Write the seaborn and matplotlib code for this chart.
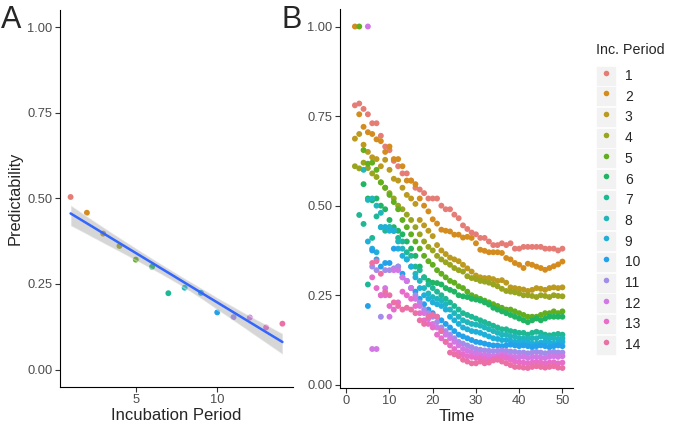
import numpy as np
import pandas as pd
import matplotlib
matplotlib.use('Agg')
import matplotlib.pyplot as plt
import seaborn as sns
from matplotlib.lines import Line2D
from matplotlib.patches import Patch
from matplotlib.legend_handler import HandlerTuple

# panel A: predictability per incubation period
inc_period = [1, 2, 3, 4, 5, 6, 7, 8, 9, 10, 11, 12, 13, 14]
predictability = [0.504, 0.458, 0.397, 0.361, 0.321, 0.300, 0.223,
                  0.239, 0.224, 0.167, 0.153, 0.152, 0.123, 0.134]

# panel B: predictability over time, one list per incubation period
# each list ends at time 50
p1 = [0.78, 0.785, 0.77, 0.755, 0.73, 0.73, 0.695, 0.665, 0.655, 0.625,
      0.61, 0.59, 0.59, 0.57, 0.55, 0.545, 0.535, 0.52, 0.52, 0.52,
      0.50, 0.49, 0.49, 0.475, 0.465, 0.445, 0.435, 0.425, 0.42, 0.41,
      0.41, 0.40, 0.39, 0.39, 0.395, 0.39, 0.395, 0.38, 0.38, 0.385,
      0.385, 0.385, 0.385, 0.385, 0.38, 0.38, 0.38, 0.375, 0.38]
p2 = [1.00, 0.755, 0.72, 0.705, 0.70, 0.685, 0.68, 0.65, 0.665, 0.63,
      0.63, 0.61, 0.57, 0.57, 0.56, 0.52, 0.50, 0.484, 0.462, 0.45,
      0.433, 0.43, 0.428, 0.419, 0.419, 0.411, 0.413, 0.41, 0.395, 0.377,
      0.374, 0.37, 0.37, 0.37, 0.368, 0.354, 0.35, 0.34, 0.335, 0.326,
      0.338, 0.335, 0.33, 0.326, 0.321, 0.326, 0.331, 0.336, 0.344]
p3 = [0.687, 0.70, 0.67, 0.65, 0.635, 0.63, 0.61, 0.628, 0.60, 0.575,
      0.57, 0.55, 0.53, 0.52, 0.505, 0.46, 0.445, 0.43, 0.415, 0.39,
      0.375, 0.365, 0.355, 0.35, 0.345, 0.335, 0.325, 0.316, 0.305, 0.30,
      0.298, 0.298, 0.295, 0.29, 0.292, 0.285, 0.272, 0.27, 0.268, 0.266,
      0.262, 0.265, 0.27, 0.268, 0.265, 0.27, 0.272, 0.27, 0.272]
p4 = [0.61, 0.604, 0.62, 0.605, 0.59, 0.58, 0.565, 0.55, 0.535, 0.52,
      0.50, 0.49, 0.475, 0.46, 0.44, 0.42, 0.40, 0.385, 0.375, 0.36,
      0.35, 0.342, 0.335, 0.326, 0.32, 0.316, 0.303, 0.298, 0.295, 0.29,
      0.288, 0.285, 0.28, 0.275, 0.268, 0.262, 0.26, 0.258, 0.255, 0.25,
      0.25, 0.248, 0.245, 0.25, 0.248, 0.245, 0.25, 0.248, 0.247]
p5 = [1.00, 0.655, 0.617, 0.62, 0.60, 0.565, 0.55, 0.53, 0.51, 0.49,
      0.46, 0.44, 0.42, 0.40, 0.38, 0.36, 0.345, 0.335, 0.32, 0.31,
      0.30, 0.29, 0.285, 0.275, 0.27, 0.26, 0.25, 0.245, 0.24, 0.235,
      0.23, 0.225, 0.22, 0.215, 0.21, 0.21, 0.205, 0.20, 0.195, 0.19,
      0.19, 0.19, 0.195, 0.20, 0.20, 0.205, 0.20, 0.205]
p6 = [0.56, 0.52, 0.515, 0.52, 0.50, 0.49, 0.46, 0.44, 0.43, 0.42,
      0.40, 0.38, 0.36, 0.33, 0.30, 0.29, 0.285, 0.284, 0.28, 0.27,
      0.265, 0.26, 0.25, 0.247, 0.245, 0.24, 0.238, 0.235, 0.23, 0.224,
      0.215, 0.21, 0.205, 0.20, 0.195, 0.19, 0.185, 0.18, 0.175, 0.18,
      0.185, 0.18, 0.185, 0.19, 0.19, 0.19, 0.19]
p7 = [0.474, 0.449, 0.28, 0.41, 0.47, 0.44, 0.43, 0.44, 0.43, 0.41,
      0.40, 0.37, 0.36, 0.33, 0.32, 0.30, 0.28, 0.27, 0.26, 0.25,
      0.24, 0.23, 0.22, 0.21, 0.20, 0.195, 0.19, 0.185, 0.18, 0.175,
      0.17, 0.165, 0.16, 0.155, 0.155, 0.15, 0.148, 0.145, 0.145, 0.14,
      0.145, 0.148, 0.145, 0.14, 0.138, 0.14, 0.142, 0.14]
p8 = [0.60, 0.516, 0.52, 0.50, 0.48, 0.44, 0.44, 0.43, 0.40, 0.38,
      0.35, 0.33, 0.31, 0.29, 0.27, 0.255, 0.245, 0.24, 0.235, 0.225,
      0.21, 0.20, 0.19, 0.18, 0.175, 0.17, 0.168, 0.165, 0.16, 0.155,
      0.15, 0.145, 0.14, 0.14, 0.135, 0.135, 0.13, 0.13, 0.128, 0.13,
      0.13, 0.135, 0.132, 0.13, 0.13, 0.128, 0.13]
p9 = [0.40, 0.38, 0.37, 0.44, 0.44, 0.43, 0.43, 0.38, 0.36, 0.35,
      0.33, 0.30, 0.27, 0.25, 0.24, 0.23, 0.225, 0.22, 0.21, 0.19,
      0.18, 0.17, 0.16, 0.155, 0.15, 0.148, 0.145, 0.14, 0.135, 0.13,
      0.128, 0.125, 0.125, 0.122, 0.12, 0.12, 0.118, 0.12, 0.115, 0.115,
      0.118, 0.12, 0.118, 0.115, 0.118, 0.12]
p10 = [0.22, 0.375, 0.35, 0.33, 0.34, 0.34, 0.38, 0.33, 0.31, 0.29,
       0.27, 0.26, 0.24, 0.225, 0.21, 0.20, 0.19, 0.18, 0.17, 0.16,
       0.15, 0.14, 0.135, 0.13, 0.125, 0.12, 0.118, 0.115, 0.112, 0.11,
       0.11, 0.108, 0.11, 0.112, 0.11, 0.108, 0.11, 0.108, 0.105, 0.108,
       0.11, 0.108, 0.105, 0.108, 0.11, 0.108]
p11 = [0.33, 0.32, 0.19, 0.32, 0.32, 0.325, 0.33, 0.30, 0.29, 0.27,
       0.25, 0.23, 0.21, 0.20, 0.19, 0.175, 0.16, 0.15, 0.14, 0.13,
       0.12, 0.115, 0.11, 0.105, 0.10, 0.098, 0.096, 0.095, 0.094, 0.095,
       0.096, 0.095, 0.093, 0.092, 0.09, 0.09, 0.088, 0.09, 0.092, 0.09,
       0.088, 0.09, 0.092, 0.09, 0.09]
p12 = [1.00, 0.10, 0.10, 0.25, 0.27, 0.19, 0.32, 0.32, 0.30, 0.29,
       0.27, 0.24, 0.22, 0.20, 0.185, 0.17, 0.16, 0.15, 0.14, 0.13,
       0.12, 0.11, 0.10, 0.095, 0.09, 0.088, 0.085, 0.083, 0.082, 0.08,
       0.082, 0.085, 0.083, 0.08, 0.078, 0.077, 0.078, 0.075, 0.077, 0.078,
       0.076, 0.075, 0.078, 0.08, 0.078, 0.08]
p13 = [0.30, 0.27, 0.25, 0.25, 0.22, 0.21, 0.23, 0.26, 0.25, 0.24,
       0.22, 0.20, 0.18, 0.17, 0.16, 0.14, 0.13, 0.12, 0.11, 0.10,
       0.09, 0.085, 0.08, 0.078, 0.075, 0.075, 0.072, 0.07, 0.072, 0.075,
       0.078, 0.075, 0.07, 0.065, 0.063, 0.062, 0.06, 0.062, 0.064, 0.062,
       0.06, 0.062, 0.063, 0.06, 0.062]
p14 = [0.34, 0.345, 0.31, 0.26, 0.25, 0.23, 0.22, 0.21, 0.215, 0.21,
       0.20, 0.18, 0.17, 0.19, 0.195, 0.19, 0.15, 0.12, 0.09, 0.085,
       0.08, 0.07, 0.065, 0.06, 0.06, 0.065, 0.06, 0.062, 0.068, 0.07,
       0.065, 0.06, 0.055, 0.05, 0.05, 0.048, 0.047, 0.05, 0.052, 0.05,
       0.048, 0.05, 0.052, 0.048, 0.047]
series = [p1, p2, p3, p4, p5, p6, p7, p8, p9, p10, p11, p12, p13, p14]
last_time = 50


def gg_hue(h, c=100, l=65):
    # ggplot's default hcl hue colours, toned down a little like the scan
    hr = np.deg2rad(h)
    u, v = c * np.cos(hr), c * np.sin(hr)
    xn, yn, zn = 95.047, 100.0, 108.883
    y = yn * ((l + 16) / 116) ** 3
    d = xn + 15 * yn + 3 * zn
    up = u / (13 * l) + 4 * xn / d
    vp = v / (13 * l) + 9 * yn / d
    x = 9 * y * up / (4 * vp)
    z = y * (12 - 3 * up - 20 * vp) / (4 * vp)
    m = np.array([[3.2404542, -1.5371385, -0.4985314],
                  [-0.9692660, 1.8760108, 0.0415560],
                  [0.0556434, -0.2040259, 1.0572252]])
    rgb = m @ np.array([x, y, z]) / 100
    rgb = np.where(rgb <= 0.0031308, 12.92 * rgb, 1.055 * np.abs(rgb) ** (1 / 2.4) - 0.055)
    rgb = np.clip(rgb, 0, 1)
    rgb = 0.8 * rgb + 0.2 * np.array([0.6, 0.6, 0.6])
    return tuple(rgb)


labels = [str(p) for p in inc_period]
hues = np.linspace(15, 375, len(labels) + 1)[:-1]
palette = {lab: gg_hue(h) for lab, h in zip(labels, hues)}

dfA = pd.DataFrame({'period': inc_period, 'pred': predictability, 'lab': labels})
rows = []
for lab, vals in zip(labels, series):
    t0 = last_time - len(vals) + 1
    for i, val in enumerate(vals):
        rows.append((lab, t0 + i, val))
dfB = pd.DataFrame(rows, columns=['lab', 'time', 'pred'])

sns.set_theme(style='ticks')
plt.rcParams['font.family'] = ['Liberation Sans', 'DejaVu Sans']

fig = plt.figure(figsize=(6.76, 4.25), dpi=100)
axA = fig.add_axes([60 / 676, 38.3 / 425, 233 / 676, 376.7 / 425])
axB = fig.add_axes([340 / 676, 37.3 / 425, 233 / 676, 378.4 / 425])

sns.scatterplot(data=dfA, x='period', y='pred', hue='lab', palette=palette,
                s=18, linewidth=0, legend=False, ax=axA, zorder=1)
sns.regplot(data=dfA, x='period', y='pred', scatter=False, ax=axA, ci=90,
            color='#3366FF', line_kws={'lw': 1.8, 'zorder': 3}, seed=3)
for coll in axA.collections[1:]:
    coll.set_facecolor('#999999')
    coll.set_alpha(0.4)
    coll.set_zorder(2)

sns.scatterplot(data=dfB, x='time', y='pred', hue='lab', palette=palette,
                s=18, linewidth=0, legend=False, ax=axB)

yt = [0, 0.25, 0.5, 0.75, 1.0]
for ax in (axA, axB):
    for side in ('top', 'right'):
        ax.spines[side].set_visible(False)
    for side in ('left', 'bottom'):
        ax.spines[side].set_color('black')
        ax.spines[side].set_linewidth(0.8)
    ax.tick_params(length=3.5, width=0.8, color='#333333',
                   labelcolor='#4D4D4D', labelsize=9.3, pad=2)
    ax.set_yticks(yt)
    ax.set_yticklabels(['0.00', '0.25', '0.50', '0.75', '1.00'])
    ax.grid(False)

axA.set_xlim(0.35, 14.65)
axA.set_ylim(-0.05, 1.05)
axA.set_xticks([5, 10])
axA.set_xlabel('Incubation Period', fontsize=12, labelpad=1)
axA.set_ylabel('Predictability', fontsize=11.8, labelpad=3)

axB.set_xlim(-1.45, 52.45)
axB.set_ylim(-0.008, 1.048)
axB.set_xticks([0, 10, 20, 30, 40, 50])
axB.set_xlabel('Time', fontsize=12, labelpad=1)
axB.set_ylabel('')

fig.text(1 / 676, 1 - 5 / 425, 'A', fontsize=22, va='top', ha='left')
fig.text(282 / 676, 1 - 5 / 425, 'B', fontsize=22, va='top', ha='left')

# legend: grey key boxes with a dot, title as separate text
fig.text(596 / 676, 1 - 50 / 425, 'Inc. Period', fontsize=10.3, va='center', ha='left')
handles = [(Patch(facecolor='#F2F2F2', edgecolor='white', linewidth=0.5),
            Line2D([], [], ls='', marker='o', markersize=4, markeredgewidth=0,
                   color=palette[lab]))
           for lab in labels]
fig.legend(handles, labels, loc='upper left', bbox_to_anchor=(596 / 676, 1 - 65.5 / 425),
           frameon=False, fontsize=10,
           handlelength=1.47, handleheight=1.84, labelspacing=0.05,
           handletextpad=0.6, borderaxespad=0, borderpad=0,
           handler_map={tuple: HandlerTuple(ndivide=1, pad=0)})

fig.savefig('out.png', dpi=100)
